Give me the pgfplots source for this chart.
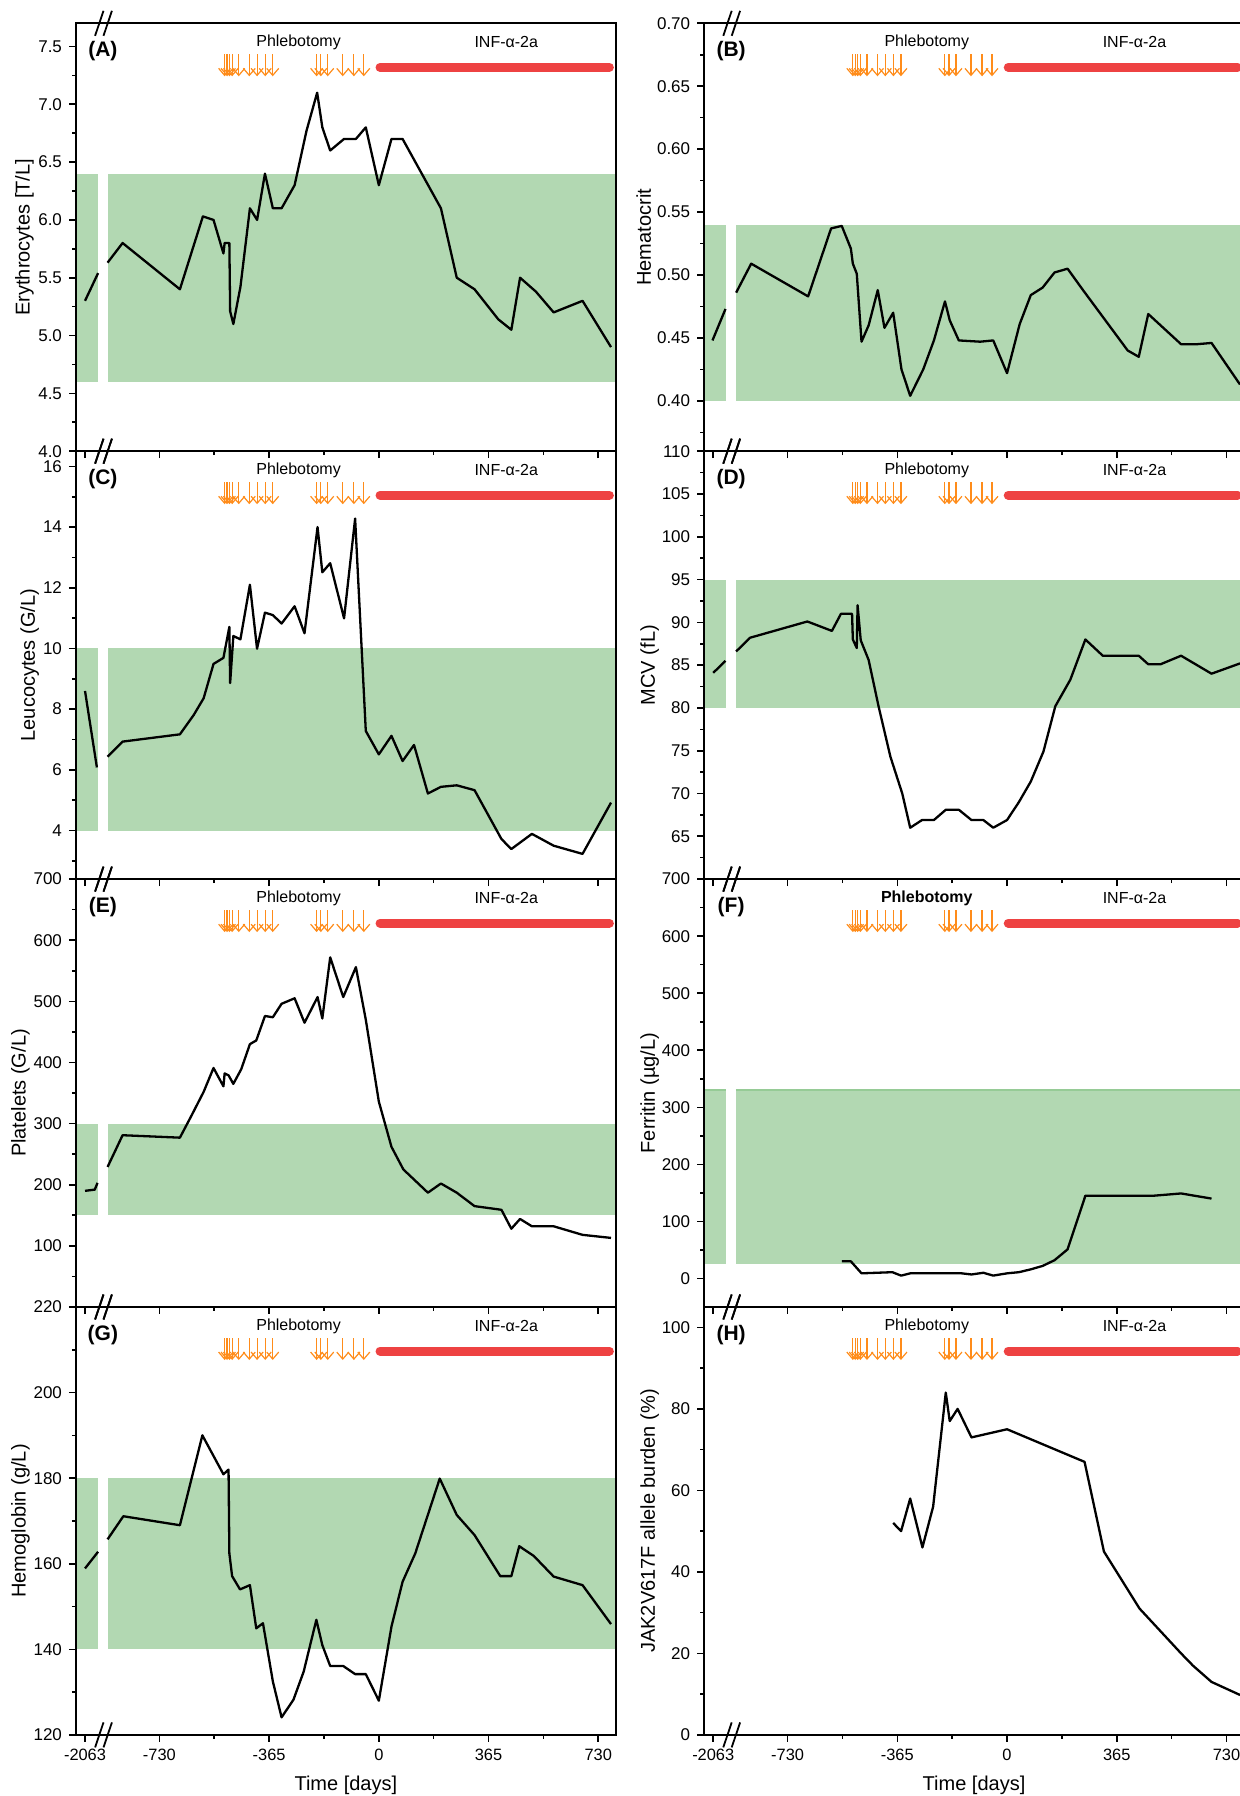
\documentclass[border=0pt]{standalone}
\usepackage{fontspec}
\setmainfont{Liberation Sans}
\usepackage{pgfplots}
\pgfplotsset{compat=1.18}
\usetikzlibrary{arrows.meta}
\definecolor{bandgreen}{RGB}{178,216,178}
\definecolor{bandedge}{RGB}{150,203,150}
\definecolor{barred}{RGB}{238,66,66}
\definecolor{arrowor}{RGB}{255,140,26}

\pgfplotsset{
 panel/.style={
  scale only axis, width=269.85pt, height=213.95pt, anchor=north west,
  xmin=-1007.5, xmax=788,
  xtick={-977.5,-730,-365,0,365,730},
  minor xtick={-547.5,-182.5,182.5,547.5},
  xticklabels={},
  xtick pos=bottom, ytick pos=left,
  tick align=outside,
  major tick length=3.5pt, minor tick length=2pt,
  tick style={black, line width=0.8pt},
  axis line style={line width=1pt},
  xticklabel style={font=\fontsize{8.2}{9}\selectfont},
  yticklabel style={font=\fontsize{8.5}{9}\selectfont},
  label style={font=\fontsize{10}{12}\selectfont},
  /pgf/number format/assume math mode=true,
  clip=false,
  axis on top,
 },
 bottompanel/.style={xticklabels={-2063,-730,-365,0,365,730}, xlabel={Time [days]},
   xlabel style={at={(axis description cs:0.5,-0.1168)}, anchor=center}},
 over/.style={scale only axis, width=269.85pt, height=213.95pt, anchor=north west,
   xmin=-1007.5, xmax=788, ymin=0, ymax=427.9, y dir=reverse, hide axis, clip=false},
 dataline/.style={black, line width=1.15pt, line join=round},
 band/.style={fill=bandgreen, draw=none},
}

\newcommand{\annot}[2]{%
 \addplot[arrowor, line width=0.6pt, quiver={u=0,v=22}, -{Straight Barb[length=3.5pt,width=6pt,line width=0.6pt]}]
   coordinates {(-513,31) (-505,31) (-497,31) (-488,31) (-466,31) (-431,31) (-405,31) (-378,31) (-353,31)
                (-207,31) (-193,31) (-170,31) (-120,31) (-83,31) (-50,31)};
 \addplot[barred, line width=4.5pt, line cap=round] coordinates {(4,44) (767,44)};
 \node[font=#2\fontsize{8}{9}\selectfont] at (axis cs:-267,19) {Phlebotomy};
 \node[font=\fontsize{8}{9}\selectfont] at (axis cs:424,19) {INF-α-2a};
 \node[font=\bfseries\fontsize{10.5}{12}\selectfont] at (axis cs:-918,28) {(#1)};
 \addplot[black, line width=0.9pt] coordinates {(-944,12.5) (-916,-12.5)};
 \addplot[black, line width=0.9pt] coordinates {(-916,12.5) (-888,-12.5)};
 \addplot[black, line width=0.9pt] coordinates {(-944,440.4) (-916,415.4)};
 \addplot[black, line width=0.9pt] coordinates {(-916,440.4) (-888,415.4)};
}

\begin{document}
\begin{tikzpicture}
% ---------------- (A) ----------------
\begin{axis}[panel, at={(38pt,886.35pt)}, ymin=4, ymax=7.7,
  ytick={4,4.5,5,5.5,6,6.5,7,7.5}, minor ytick={4.25,4.75,5.25,5.75,6.25,6.75,7.25},
  yticklabel style={/pgf/number format/.cd, fixed, fixed zerofill, precision=1},
  ylabel={Erythrocytes [T/L]}, ylabel style={at={(axis description cs:-0.0954,0.5)}, anchor=center}]
\addplot[band] coordinates {(-1007.5,4.6) (-934,4.6) (-934,6.4) (-1007.5,6.4)} -- cycle;
\addplot[band] coordinates {(-902,4.6) (788,4.6) (788,6.4) (-902,6.4)} -- cycle;
\addplot[dataline] coordinates {(-977.5,5.30) (-934,5.54)};
\addplot[dataline] coordinates {(-902.5,5.63) (-852.5,5.80) (-661.8,5.40) (-585.4,6.03) (-550,6.00) (-517,5.71) (-513,5.80) (-497.3,5.80) (-494.7,5.21) (-484,5.10) (-460.5,5.42) (-428.9,6.10) (-405,6.00) (-378.9,6.40) (-352.6,6.10) (-323.6,6.10) (-280.2,6.30) (-240.7,6.77) (-205.2,7.10) (-188,6.80) (-161.8,6.60) (-115.7,6.70) (-76.3,6.70) (-43.4,6.80) (0,6.30) (42,6.70) (79,6.70) (206.6,6.10) (259.2,5.50) (318.4,5.40) (397.4,5.14) (440.8,5.05) (469.8,5.50) (522.4,5.38) (581.6,5.20) (677.7,5.30) (772.4,4.90)};
\end{axis}
\begin{axis}[over, at={(38pt,886.35pt)}] \annot{A}{} \end{axis}

% ---------------- (B) ----------------
\begin{axis}[panel, at={(352.1pt,886.35pt)}, ymin=0.36, ymax=0.70,
  ytick={0.40,0.45,0.50,0.55,0.60,0.65,0.70}, minor ytick={0.375,0.425,0.475,0.525,0.575,0.625,0.675},
  yticklabel style={/pgf/number format/.cd, fixed, fixed zerofill, precision=2},
  ylabel={Hematocrit}, ylabel style={at={(axis description cs:-0.112,0.5)}, anchor=center}]
\addplot[band] coordinates {(-1007.5,0.40) (-934,0.40) (-934,0.54) (-1007.5,0.54)} -- cycle;
\addplot[band] coordinates {(-902,0.40) (788,0.40) (788,0.54) (-902,0.54)} -- cycle;
\addplot[dataline] coordinates {(-980,0.448) (-936.7,0.473)};
\addplot[dataline] coordinates {(-901.2,0.486) (-851.2,0.509) (-661.7,0.483) (-585.4,0.537) (-549.9,0.539) (-519.6,0.521) (-513,0.509) (-499.9,0.501) (-484.1,0.447) (-460.4,0.460) (-430.1,0.488) (-407.8,0.458) (-378.8,0.470) (-351.2,0.425) (-322.2,0.404) (-278.8,0.425) (-243.3,0.448) (-206.5,0.479) (-190.7,0.464) (-160.4,0.448) (-89.4,0.447) (-45.9,0.448) (0,0.422) (42.1,0.461) (79,0.484) (118.5,0.490) (158,0.502) (201.4,0.505) (252.7,0.488) (401.4,0.440) (438.2,0.435) (469.8,0.469) (579,0.445) (631.6,0.445) (680.3,0.446) (775,0.413)};
\end{axis}
\begin{axis}[over, at={(352.1pt,886.35pt)}] \annot{B}{} \end{axis}

% ---------------- (C) ----------------
\begin{axis}[panel, at={(38pt,672.4pt)}, ymin=2.4, ymax=16.5,
  ytick={4,6,8,10,12,14,16}, minor ytick={3,5,7,9,11,13,15},
  ylabel={Leucocytes (G/L)}, ylabel style={at={(axis description cs:-0.0858,0.5)}, anchor=center}]
\addplot[band] coordinates {(-1007.5,4) (-934,4) (-934,10) (-1007.5,10)} -- cycle;
\addplot[band] coordinates {(-902,4) (788,4) (788,10) (-902,10)} -- cycle;
\addplot[dataline] coordinates {(-977.5,8.60) (-938,6.08)};
\addplot[dataline] coordinates {(-902.5,6.43) (-852.5,6.93) (-661.8,7.17) (-615.7,7.81) (-582.8,8.36) (-550,9.49) (-517,9.69) (-497.3,10.71) (-494.7,8.86) (-484,10.41) (-460.5,10.30) (-428.9,12.10) (-405.2,9.99) (-378.9,11.18) (-352.6,11.10) (-323.6,10.82) (-280.2,11.39) (-247.3,10.50) (-203.9,14.00) (-188,12.51) (-161.8,12.81) (-115.7,10.99) (-78.9,14.28) (-43.4,7.28) (0,6.51) (42,7.12) (79,6.29) (117.1,6.82) (163.2,5.22) (206.6,5.44) (259.2,5.49) (318.4,5.33) (407.9,3.72) (440.8,3.39) (509.2,3.89) (581.6,3.50) (677.7,3.23) (772.4,4.92)};
\end{axis}
\begin{axis}[over, at={(38pt,672.4pt)}] \annot{C}{} \end{axis}

% ---------------- (D) ----------------
\begin{axis}[panel, at={(352.1pt,672.4pt)}, ymin=60, ymax=110,
  ytick={65,70,75,80,85,90,95,100,105,110}, minor ytick={62.5,67.5,72.5,77.5,82.5,87.5,92.5,97.5,102.5,107.5},
  ylabel={MCV (fL)}, ylabel style={at={(axis description cs:-0.101,0.5)}, anchor=center}]
\addplot[band] coordinates {(-1007.5,80) (-934,80) (-934,95) (-1007.5,95)} -- cycle;
\addplot[band] coordinates {(-902,80) (788,80) (788,95) (-902,95)} -- cycle;
\addplot[dataline] coordinates {(-977.5,84.1) (-936.7,85.5)};
\addplot[dataline] coordinates {(-901.2,86.6) (-855.1,88.2) (-664.3,90.1) (-582.7,89.0) (-552.5,91.0) (-515.6,91.0) (-513,88.0) (-499.9,87.0) (-497.2,92.0) (-486.7,87.9) (-460.4,85.6) (-427.5,80.2) (-388,74.3) (-348.6,70.0) (-322.2,66.0) (-282.8,66.9) (-243.3,66.9) (-203.8,68.1) (-160.4,68.1) (-118.3,66.9) (-78.8,66.9) (-45.9,66.0) (0,66.9) (39.5,69.0) (79,71.4) (121.1,74.9) (160.6,80.2) (210.6,83.3) (260.6,88.0) (318.5,86.1) (438.2,86.1) (469.8,85.1) (510.6,85.1) (579,86.1) (680.3,84.0) (775,85.2)};
\end{axis}
\begin{axis}[over, at={(352.1pt,672.4pt)}] \annot{D}{} \end{axis}

% ---------------- (E) ----------------
\begin{axis}[panel, at={(38pt,458.45pt)}, ymin=0, ymax=700,
  ytick={100,200,300,400,500,600,700}, minor ytick={50,150,250,350,450,550,650},
  ylabel={Platelets (G/L)}, ylabel style={at={(axis description cs:-0.1027,0.5)}, anchor=center}]
\addplot[band] coordinates {(-1007.5,150) (-934,150) (-934,300) (-1007.5,300)} -- cycle;
\addplot[band] coordinates {(-902,150) (788,150) (788,300) (-902,300)} -- cycle;
\addplot[dataline] coordinates {(-977.5,190) (-945,192) (-936,203)};
\addplot[dataline] coordinates {(-902.5,229) (-852.5,281) (-661.8,277) (-622.3,314) (-582.8,352) (-550,391) (-517,361) (-513,382) (-500,379) (-484.1,365) (-457.8,389) (-428.9,430) (-407.8,436) (-378.9,476) (-352.6,474) (-323.6,496) (-280.2,505) (-247.3,465) (-203.9,507) (-188,472) (-161.8,572) (-118.4,507) (-76.3,556) (-43.4,470) (0,336) (42,262) (81.6,225) (163.2,187) (206.6,202) (259.2,187) (318.4,165) (407.9,159) (440.8,128) (469.8,144) (509.2,132) (581.6,132) (677.7,118) (772.4,113)};
\end{axis}
\begin{axis}[over, at={(38pt,458.45pt)}] \annot{E}{} \end{axis}

% ---------------- (F) ----------------
\begin{axis}[panel, at={(352.1pt,458.45pt)}, ymin=-50, ymax=700,
  ytick={0,100,200,300,400,500,600,700}, minor ytick={50,150,250,350,450,550,650},
  ylabel={Ferritin (µg/L)}, ylabel style={at={(axis description cs:-0.101,0.5)}, anchor=center}]
\addplot[band] coordinates {(-1007.5,25) (-934,25) (-934,330) (-1007.5,330)} -- cycle;
\addplot[band] coordinates {(-902,25) (788,25) (788,330) (-902,330)} -- cycle;
\addplot[bandedge, line width=0.7pt] coordinates {(-1007.5,330) (-934,330)};
\addplot[bandedge, line width=0.7pt] coordinates {(-902,330) (788,330)};
\addplot[dataline] coordinates {(-549.9,30) (-519.6,30) (-484.1,9) (-381.5,11) (-352.5,5) (-322.2,9) (-151.2,9) (-118.3,7) (-78.8,10) (-45.9,5) (0,9) (39.5,11) (79,16) (118.5,22) (158,32) (201.4,51) (260.6,145) (486.9,145) (579,149) (680.3,140)};
\end{axis}
\begin{axis}[over, at={(352.1pt,458.45pt)}] \annot{F}{\bfseries} \end{axis}

% ---------------- (G) ----------------
\begin{axis}[panel, bottompanel, at={(38pt,244.5pt)}, ymin=120, ymax=220,
  ytick={120,140,160,180,200,220}, minor ytick={130,150,170,190,210},
  ylabel={Hemoglobin (g/L)}, ylabel style={at={(axis description cs:-0.1027,0.5)}, anchor=center}]
\addplot[band] coordinates {(-1007.5,140) (-934,140) (-934,180) (-1007.5,180)} -- cycle;
\addplot[band] coordinates {(-902,140) (788,140) (788,180) (-902,180)} -- cycle;
\addplot[dataline] coordinates {(-977.5,158.9) (-934,162.8)};
\addplot[dataline] coordinates {(-902.5,165.7) (-850,171.1) (-661.8,169) (-587,190) (-517,180.9) (-500,182) (-497.3,162.4) (-488.1,157.1) (-461.8,154) (-428.9,155) (-407.8,144.9) (-385.5,146.1) (-352.6,132.5) (-323.6,124.1) (-284.2,128.2) (-250,134.8) (-207.9,146.9) (-188.1,141) (-161.8,136.1) (-118.4,136.1) (-78.9,134.2) (-43.4,134.2) (0,128) (42,145.3) (79,155.8) (121.1,162.4) (202.6,179.9) (259.2,171.4) (318.4,166.7) (404,157.1) (440.8,157.1) (467.1,164.1) (515.8,161.8) (581.6,157) (677.7,155) (772.4,145.9)};
\end{axis}
\begin{axis}[over, at={(38pt,244.5pt)}] \annot{G}{} \end{axis}

% ---------------- (H) ----------------
\begin{axis}[panel, bottompanel, at={(352.1pt,244.5pt)}, ymin=0, ymax=105,
  ytick={0,20,40,60,80,100}, minor ytick={10,30,50,70,90},
  ylabel={JAK2V617F allele burden (\%)}, ylabel style={at={(axis description cs:-0.101,0.5)}, anchor=center}]
\addplot[dataline] coordinates {(-378.8,52) (-352.5,50) (-322.2,58) (-281.5,46) (-245.9,56) (-203.8,84) (-190.7,77) (-164.4,80) (-118.3,73) (0,75) (257.9,67) (322.3,45) (440.8,31) (579,20) (618.5,17) (680.3,13) (775,9.8)};
\end{axis}
\begin{axis}[over, at={(352.1pt,244.5pt)}] \annot{H}{} \end{axis}

\pgfresetboundingbox
\path[use as bounding box] (0,0) rectangle (619.5pt,898pt);
\end{tikzpicture}
\end{document}
